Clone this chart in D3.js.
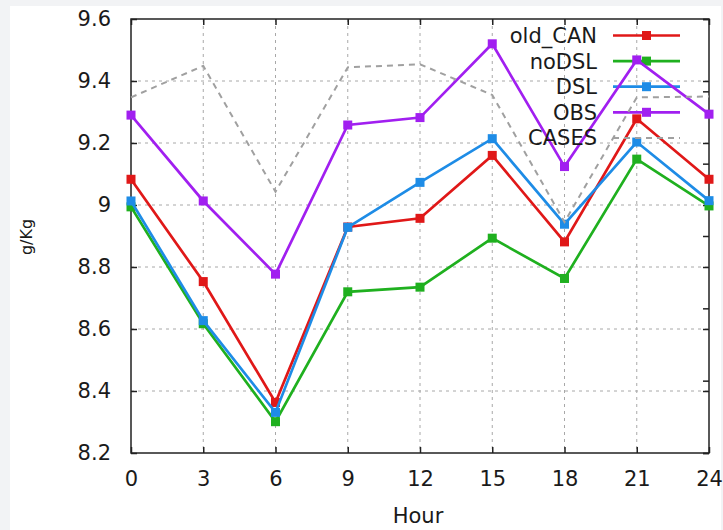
<!DOCTYPE html>
<html>
<head>
<meta charset="utf-8">
<script src="https://cdn.jsdelivr.net/npm/d3@7"></script>
<style>
  html, body { margin: 0; padding: 0; background: #f2f3f5; }
  svg { display: block; }
  text { font-family: "DejaVu Sans", sans-serif; fill: #1a1a1a; }
</style>
</head>
<body>
<svg id="chart" width="723" height="530"></svg>
<script>
const hours = [0, 3, 6, 9, 12, 15, 18, 21, 24];
const oldCAN = [9.083, 8.753, 8.363, 8.929, 8.957, 9.160, 8.881, 9.278, 9.083];
const noDSL  = [8.994, 8.617, 8.301, 8.720, 8.735, 8.893, 8.763, 9.148, 8.997];
const DSL    = [9.013, 8.627, 8.331, 8.928, 9.073, 9.214, 8.938, 9.203, 9.014];
const OBS    = [9.290, 9.013, 8.777, 9.258, 9.282, 9.520, 9.124, 9.468, 9.293];
const CASES  = [9.347, 9.449, 9.043, 9.444, 9.454, 9.355, 8.945, 9.347, 9.350];
const seriesNames = ["old_CAN", "noDSL", "DSL", "OBS", "CASES"];
const yTicks = [8.2, 8.4, 8.6, 8.8, 9.0, 9.2, 9.4, 9.6];
const yTickLabels = ["8.2", "8.4", "8.6", "8.8", "9", "9.2", "9.4", "9.6"];
const xTicks = [0, 3, 6, 9, 12, 15, 18, 21, 24];
const y2Ticks = [0, 1, 2, 3, 4, 5, 6];
const xLabel = "Hour";
const yLabel = "g/Kg";

const colors = ["#e01818", "#1fb01f", "#1e8ce6", "#a11ff0", "#a0a0a0"];
const seriesData = [oldCAN, noDSL, DSL, OBS, CASES];

const svg = d3.select("#chart");
// white panel
svg.append("rect").attr("x", 10).attr("y", 6).attr("width", 711).attr("height", 524).attr("fill", "#ffffff");

const L = 131, R = 709, T = 19, B = 453;
const x = d3.scaleLinear().domain([0, 24]).range([L, R]);
const y = d3.scaleLinear().domain([8.2, 9.6]).range([B, T]);
const y2 = d3.scaleLinear().domain([0, 6]).range([B, T]);

// grid
const grid = svg.append("g").attr("stroke", "#a8a8a8").attr("stroke-width", 1).attr("stroke-dasharray", "3,4");
grid.selectAll("line.gx").data(xTicks.slice(1, -1)).enter().append("line")
  .attr("x1", d => x(d)).attr("x2", d => x(d)).attr("y1", T).attr("y2", B);
grid.selectAll("line.gy").data(yTicks.slice(1, -1)).enter().append("line")
  .attr("y1", d => y(d)).attr("y2", d => y(d)).attr("x1", L).attr("x2", R);

// axes (inward ticks)
const tk = 6;
const axB = d3.axisBottom(x).tickValues(xTicks).tickSize(-tk).tickPadding(tk + 12).tickFormat(d3.format("d"));
const axT = d3.axisTop(x).tickValues(xTicks).tickSize(-tk).tickFormat("");
const axL = d3.axisLeft(y).tickValues(yTicks).tickSize(-tk).tickPadding(tk + 14).tickFormat((d, i) => yTickLabels[i]);
const axR = d3.axisRight(y).tickValues(yTicks).tickSize(-tk).tickFormat("");
const axR2 = d3.axisRight(y2).tickValues(y2Ticks).tickSize(-tk).tickFormat("");

function styleAxis(g) {
  g.select(".domain").remove();
  g.selectAll(".tick line").attr("stroke", "#222").attr("stroke-width", 1.5);
  g.selectAll("text").attr("font-size", 21).attr("fill", "#1a1a1a").attr("font-family", "DejaVu Sans, sans-serif");
}
svg.append("g").attr("transform", `translate(0,${B})`).call(axB).call(styleAxis);
svg.append("g").attr("transform", `translate(0,${T})`).call(axT).call(styleAxis);
svg.append("g").attr("transform", `translate(${L},0)`).call(axL).call(styleAxis);
svg.append("g").attr("transform", `translate(${R},0)`).call(axR).call(styleAxis);
svg.append("g").attr("transform", `translate(${R},0)`).call(axR2).call(styleAxis);

// frame
svg.append("rect").attr("x", L).attr("y", T).attr("width", R - L).attr("height", B - T)
  .attr("fill", "none").attr("stroke", "#222").attr("stroke-width", 1.5);

// series
const line = d3.line().x((d, i) => x(hours[i])).y(d => y(d));
const legX = 597, legLine0 = 613, legLine1 = 680, legY0 = 35.5, legDy = 25.6;

seriesData.forEach((vals, si) => {
  const isCases = seriesNames[si] === "CASES";
  const g = svg.append("g");
  g.append("path").datum(vals).attr("d", line).attr("fill", "none")
    .attr("stroke", colors[si]).attr("stroke-width", isCases ? 2 : 2.7)
    .attr("stroke-dasharray", isCases ? "6,5" : null).attr("stroke-linejoin", "miter");
  if (!isCases) {
    g.selectAll("rect").data(vals).enter().append("rect")
      .attr("x", (d, i) => x(hours[i]) - 4.5).attr("y", d => y(d) - 4.5)
      .attr("width", 9).attr("height", 9).attr("fill", colors[si]);
  }
  // legend
  const ly = legY0 + si * legDy;
  svg.append("text").attr("x", legX).attr("y", ly).attr("dy", "0.36em")
    .attr("text-anchor", "end").attr("font-size", 21).text(seriesNames[si]);
  svg.append("line").attr("x1", legLine0).attr("x2", legLine1).attr("y1", ly).attr("y2", ly)
    .attr("stroke", colors[si]).attr("stroke-width", isCases ? 2 : 2.7)
    .attr("stroke-dasharray", isCases ? "6,5" : null);
  if (!isCases) {
    svg.append("rect").attr("x", (legLine0 + legLine1) / 2 - 4.5).attr("y", ly - 4.5)
      .attr("width", 9).attr("height", 9).attr("fill", colors[si]);
  }
});

// axis labels
svg.append("text").attr("x", (L + R) / 2 - 2).attr("y", 523).attr("text-anchor", "middle")
  .attr("font-size", 21).text(xLabel);
svg.append("text").attr("transform", "translate(32,237) rotate(-90)").attr("text-anchor", "middle")
  .attr("font-size", 16).text(yLabel);
</script>
</body>
</html>
